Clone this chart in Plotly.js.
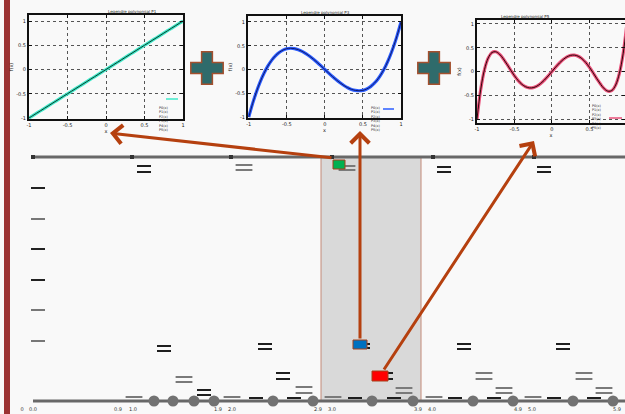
<!DOCTYPE html>
<html><head><meta charset="utf-8">
<script src="https://cdn.plot.ly/plotly-3.0.1.min.js"></script>
<style>html,body{margin:0;padding:0;background:#f9f9f9}#chart{width:625px;height:414px}</style>
</head><body><div id="chart"></div><script>
// ---- small panels: Legendre polynomials ----
const xs = [-1,-0.95,-0.9,-0.85,-0.8,-0.75,-0.7,-0.65,-0.6,-0.55,-0.5,-0.45,-0.4,-0.35,-0.3,-0.25,-0.2,-0.15,-0.1,-0.05,0,0.05,0.1,0.15,0.2,0.25,0.3,0.35,0.4,0.45,0.5,0.55,0.6,0.65,0.7,0.75,0.8,0.85,0.9,0.95,1];
const p1 = [-1,-0.95,-0.9,-0.85,-0.8,-0.75,-0.7,-0.65,-0.6,-0.55,-0.5,-0.45,-0.4,-0.35,-0.3,-0.25,-0.2,-0.15,-0.1,-0.05,0,0.05,0.1,0.15,0.2,0.25,0.3,0.35,0.4,0.45,0.5,0.55,0.6,0.65,0.7,0.75,0.8,0.85,0.9,0.95,1];
const p3 = [-1,-0.718,-0.473,-0.26,-0.08,0.07,0.193,0.288,0.36,0.409,0.438,0.447,0.44,0.418,0.383,0.336,0.28,0.217,0.148,0.075,0,-0.075,-0.148,-0.217,-0.28,-0.336,-0.383,-0.418,-0.44,-0.447,-0.438,-0.409,-0.36,-0.288,-0.193,-0.07,0.08,0.26,0.473,0.718,1];
const p5 = [-1,-0.373,0.041,0.286,0.4,0.416,0.365,0.27,0.153,0.028,-0.09,-0.192,-0.271,-0.322,-0.345,-0.34,-0.308,-0.252,-0.179,-0.093,0,0.093,0.179,0.252,0.308,0.34,0.345,0.322,0.271,0.192,0.09,-0.028,-0.153,-0.27,-0.365,-0.416,-0.4,-0.286,-0.041,0.373,1];
const tickVals = [-1,-0.5,0,0.5,1];
const tickText = ['-1','-0.5','0','0.5','1'];
const panelTitles = ['Legendre polynomial P1','Legendre polynomial P3','Legendre polynomial P5'];
const legendEntries = ['P0(x)','P1(x)','P2(x)','P3(x)','P4(x)','P5(x)'];

// ---- schematic diagram (drawing units = page pixels) ----
const railX = [33, 625];
const railY = [157, 401];
const railTickX = [33,132,231,332,433,534];
const sideTickY = [188,219,249,280,310,341];
const sideTickTone = ['k','g','k','k','g','g'];
const levelX = [144,144,244,244,347,347,444,444,544,544,
                164,164,265,265,363,363,464,464,563,563,
                184,184,283,283,386,386,484,484,584,584,
                204,204,304,304,404,404,504,504,604,604,
                134,232,333,434,533,256,294,355,394,455,494,554,594];
const levelY = [166,172,165,170,166,170,167,172,167,172,
                346,351,344,349,344,348,344,349,344,349,
                377,382,373,379,373,379,373,379,373,379,
                390,395,387,393,388,393,388,393,388,393,
                397,397,397,397,397,398,398,398,398,398,398,398,398];
const levelTone = ['k','k','g','g','g','g','k','k','k','k',
                   'k','k','k','k','k','k','k','k','k','k',
                   'g','g','k','k','k','k','g','g','g','g',
                   'k','k','g','g','g','g','g','g','g','g',
                   'g','g','g','g','g','k','k','k','k','k','k','k','k'];
const nodeX = [154,173,194,214,273,313,372,413,473,513,573,613];
const labelX = [22,33,118,133,218,232,318,332,418,432,518,532,617];
const labelText = ['0','0.0','0.9','1.0','1.9','2.0','2.9','3.0','3.9','4.0','4.9','5.0','5.9'];
const bandX = [321, 421];
const stateX0 = [333, 353, 372], stateX1 = [345, 367, 388];
const stateY0 = [160, 340, 371], stateY1 = [169, 349, 381];
const stateColor = ['#00b050', '#0070c0', '#ff0000'];
const arrowTailX = [333, 360, 383], arrowTailY = [158, 340, 371];
const arrowTipX = [110, 360, 534], arrowTipY = [133, 131, 141];
const plusX = [207, 434], plusY = [68, 68];

const curves = [p1, p3, p5];
const outer = ['#3ee8c8', '#2a5cff', '#ea4f79'];
const inner = ['#0b3b2c', '#101a6a', '#2a0a0a'];
const W = 625, H = 414;
const px = v => v / W, py = v => 1 - v / H;

const traces = [];
curves.forEach((c, i) => {
  const sx = i === 0 ? 'x' : 'x' + (i + 1), sy = i === 0 ? 'y' : 'y' + (i + 1);
  traces.push({x: xs, y: c, xaxis: sx, yaxis: sy, mode: 'lines', line: {color: outer[i], width: 3.2, shape: 'spline'}, hoverinfo: 'skip'});
  traces.push({x: xs, y: c, xaxis: sx, yaxis: sy, mode: 'lines', line: {color: inner[i], width: 1, shape: 'spline'}, hoverinfo: 'skip'});
});
const M = {xaxis: 'x4', yaxis: 'y4', hoverinfo: 'skip', cliponaxis: false};
railY.forEach(y => traces.push(Object.assign({x: railX, y: [y, y], mode: 'lines', line: {color: '#686868', width: 3}}, M)));
traces.push(Object.assign({x: railTickX, y: railTickX.map(() => railY[0]), mode: 'markers', marker: {symbol: 'square', size: 4, color: '#333'}}, M));
['k', 'g'].forEach(t => {
  const ys = sideTickY.filter((_, i) => sideTickTone[i] === t);
  traces.push(Object.assign({x: ys.map(() => 38), y: ys, mode: 'markers', marker: {symbol: 'line-ew', size: 10, line: {width: 2, color: t === 'k' ? '#222' : '#777'}}}, M));
});
['g', 'k'].forEach(t => {
  const idx = levelX.map((_, i) => i).filter(i => levelTone[i] === t);
  traces.push(Object.assign({x: idx.map(i => levelX[i]), y: idx.map(i => levelY[i]), mode: 'markers', marker: {symbol: 'line-ew', size: t === 'k' ? 10 : 12, line: {width: 2, color: t === 'k' ? '#1e1e1e' : '#7a7a7a'}}}, M));
});
traces.push(Object.assign({x: nodeX, y: nodeX.map(() => railY[1]), mode: 'markers', marker: {symbol: 'circle', size: 11, color: '#727272'}}, M));
traces.push(Object.assign({x: labelX, y: labelX.map(() => 410), mode: 'text', text: labelText, textfont: {family: 'DejaVu Sans', size: 5, color: '#333'}}, M));
traces.push(Object.assign({x: plusX, y: plusY, mode: 'markers', marker: {symbol: 'cross', size: 27, color: '#2f6b6b', line: {color: '#a4502e', width: 1.5}}}, M));

const dark = '#1a1a1a';
function ttl(t) { return {text: t, font: {family: 'DejaVu Sans', size: 5, color: dark}, standoff: 2}; }
function ax(domain, range, extra) {
  return Object.assign({domain: domain, range: range, tickvals: tickVals, ticktext: tickText, ticks: 'inside', ticklen: 3, tickwidth: 1, tickcolor: '#111',
    showline: true, mirror: 'ticks', linecolor: '#111', linewidth: 2, showgrid: true, gridcolor: '#555', griddash: 'dot', gridwidth: 1,
    zeroline: false, tickfont: {family: 'DejaVu Sans', size: 5, color: dark}, fixedrange: true}, extra || {});
}
const legendFont = {family: 'DejaVu Sans', size: 3.4, color: dark};
const layout = {
  width: W, height: H, margin: {l: 0, r: 0, t: 0, b: 0}, showlegend: false,
  paper_bgcolor: '#f9f9f9', plot_bgcolor: 'rgba(0,0,0,0)', font: {color: dark},
  xaxis: ax([px(29), px(183)], [-1, 1], {anchor: 'y', title: ttl('x')}),
  yaxis: ax([py(119), py(15)], [-1.02, 1.124], {anchor: 'x', title: ttl('f(x)')}),
  xaxis2: ax([px(248), px(401)], [-1.01, 1], {anchor: 'y2', title: ttl('x')}),
  yaxis2: ax([py(118), py(16)], [-1.02, 1.126], {anchor: 'x2', title: ttl('f(x)')}),
  xaxis3: ax([px(477), 1], [-1, 0.975], {anchor: 'y3', title: ttl('x')}),
  yaxis3: ax([py(123), py(20)], [-1.084, 1.084], {anchor: 'x3', title: ttl('f(x)')}),
  xaxis4: {domain: [0, 1], range: [0, W], visible: false, anchor: 'y4', fixedrange: true},
  yaxis4: {domain: [0, 1], range: [H, 0], visible: false, anchor: 'x4', fixedrange: true},
  shapes: [
    {type: 'rect', xref: 'paper', yref: 'paper', x0: px(4), x1: px(10), y0: 0, y1: 1, fillcolor: '#9b3333', line: {width: 0}},
    {type: 'rect', xref: 'x4', yref: 'y4', x0: bandX[0], x1: bandX[1], y0: railY[0], y1: railY[1], fillcolor: '#d9d9d9', line: {color: '#c38a78', width: 1}, layer: 'below'},
    {type: 'line', xref: 'paper', yref: 'paper', x0: px(166), x1: px(178), y0: py(99), y1: py(99), line: {color: outer[0], width: 1.5}},
    {type: 'line', xref: 'paper', yref: 'paper', x0: px(383), x1: px(394), y0: py(109), y1: py(109), line: {color: outer[1], width: 1.5}},
    {type: 'line', xref: 'paper', yref: 'paper', x0: px(609), x1: px(622), y0: py(118), y1: py(118), line: {color: outer[2], width: 1.5}}
  ].concat(stateColor.map((c, i) => ({type: 'rect', xref: 'x4', yref: 'y4', x0: stateX0[i], x1: stateX1[i], y0: stateY0[i], y1: stateY1[i], fillcolor: c, line: {color: '#a4401a', width: 1}, layer: 'above'}))),
  annotations: [
    {xref: 'paper', yref: 'paper', x: px(106), y: py(7), text: panelTitles[0], showarrow: false, font: {family: 'DejaVu Sans', size: 4, color: dark}},
    {xref: 'paper', yref: 'paper', x: px(325), y: py(8), text: panelTitles[1], showarrow: false, font: {family: 'DejaVu Sans', size: 4, color: dark}},
    {xref: 'paper', yref: 'paper', x: px(552), y: py(12), text: panelTitles[2], showarrow: false, font: {family: 'DejaVu Sans', size: 4, color: dark}},
    {xref: 'paper', yref: 'paper', x: px(158), y: py(105), text: legendEntries.join('<br>'), showarrow: false, align: 'left', borderpad: 0, font: legendFont},
    {xref: 'paper', yref: 'paper', x: px(376), y: py(105), text: legendEntries.join('<br>'), showarrow: false, align: 'left', borderpad: 0, font: legendFont},
    {xref: 'paper', yref: 'paper', x: px(603), y: py(103), text: legendEntries.join('<br>'), showarrow: false, align: 'left', borderpad: 0, font: legendFont}
  ].concat(arrowTipX.map((x, i) => ({xref: 'x4', yref: 'y4', axref: 'x4', ayref: 'y4', x: x, y: arrowTipY[i], ax: arrowTailX[i], ay: arrowTailY[i], text: '', showarrow: true, arrowhead: 4, arrowsize: 1.2, arrowwidth: 3, arrowcolor: '#b5400f', standoff: 0, startstandoff: 0})))
};
Plotly.newPlot('chart', traces, layout, {staticPlot: true, displayModeBar: false});
</script></body></html>
